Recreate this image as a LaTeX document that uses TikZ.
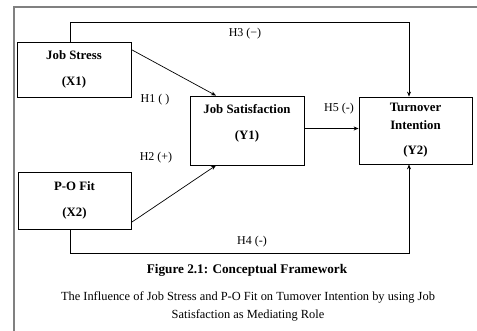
\documentclass[tikz,border=0pt]{standalone}
\usepackage{fontspec}
\setmainfont{Liberation Serif}
\usetikzlibrary{arrows.meta}

\begin{document}
\begin{tikzpicture}[x=1pt,y=-1pt,
    box/.style={draw,line width=0.8pt,align=center,inner sep=0pt,
        font=\fontsize{12.8}{15}\selectfont\bfseries},
    link/.style={line width=0.7pt,-{Stealth[length=5pt,width=4pt]}},
    hyp/.style={font=\fontsize{12}{14}\selectfont}]
    \useasboundingbox (0,0) rectangle (477,331);

    % page frame
    \draw[gray,line width=1.2pt] (14,331) -- (14,7) -- (477,7);

    % variables
    \node[box,minimum width=114,minimum height=55] (js) at (74,69.5)
        {Job Stress\\[11pt](X1)};
    \node[box,minimum width=113,minimum height=57] (pf) at (74.5,200.5)
        {P-O Fit\\[11pt](X2)};
    \node[box,minimum width=114,minimum height=69] (jsat) at (247,130.5)
        {Job Satisfaction\\[11pt](Y1)\\[3pt]};
    \node[box,minimum width=113,minimum height=67] (to) at (415.5,130.5)
        {Turnover\\[3pt]Intention\\[10pt](Y2)};

    % corners of the direct paths
    \coordinate (k3a) at (70,22);
    \coordinate (k3b) at (409,22);
    \coordinate (k4a) at (70,253);
    \coordinate (k4b) at (409,253);

    \draw[link] ([yshift=-8pt]js.north east) -- ([xshift=-31pt]jsat.north);
    \draw[link] ([yshift=7pt]pf.south east) -- ([xshift=-31pt]jsat.south);
    \draw[link] ([yshift=2pt]jsat.east) -- ([yshift=2pt]jsat.east -| to.west);
    \draw[link] (k3a |- js.north) -- (k3a) -- (k3b) -- (k3b |- to.north);
    \draw[link] (k4a |- pf.south) -- (k4a) -- (k4b) -- (k4b |- to.south);

    % hypothesis labels
    \node[hyp] (h1) at (155,100) {H1 ( )};
    \node[hyp] (h2) at (156,158) {H2 (+)};
    \node[hyp] (h3) at (245,34) {H3 (−)};
    \node[hyp] (h5) at (339,109) {H5 (-)};
    \node[hyp] (h4) at (252,242) {H4 (-)};

    % caption
    \node[font=\fontsize{13.2}{15}\selectfont\bfseries] (cap) at (247,270)
        {Figure 2.1: Conceptual Framework};
    \node[font=\fontsize{12.4}{18}\selectfont,align=center] (sub) at (248,306)
        {The Influence of Job Stress and P-O Fit on Tumover Intention by using Job\\
         Satisfaction as Mediating Role};
\end{tikzpicture}
\end{document}
